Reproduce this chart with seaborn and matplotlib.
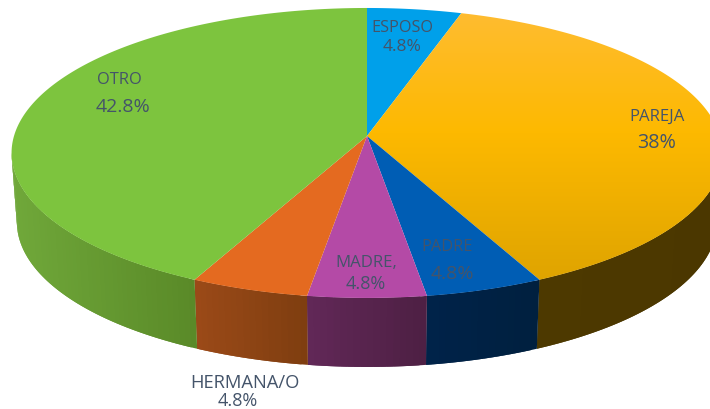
import numpy as np
import matplotlib
matplotlib.use("Agg")
import matplotlib.pyplot as plt
from matplotlib.colors import LinearSegmentedColormap, to_rgb
from matplotlib.patches import Polygon
import seaborn as sns

categories = ["ESPOSO", "PAREJA", "PADRE", "MADRE,", "HERMANA/O", "OTRO"]
values = [4.8, 38, 4.8, 4.8, 4.8, 42.8]
value_labels = ["4.8%", "38%", "4.8%", "4.8%", "4.8%", "42.8%"]

top_colors = ["#00A0EA", "#FDB706", "#005DB4", "#B44AA6", "#E46A20", "#7DC43E"]
wall_right = ["#00507A", "#4B3700", "#00203F", "#4E2044", "#7F3E10", "#5A8A28"]
wall_left = ["#00507A", "#4D3900", "#00234A", "#622858", "#9C4A18", "#70A83A"]

# label layout, pixels (name centre, value centre)
label_pos = [((402, 28), (402, 47)), ((657, 117), (657, 143)), ((447, 247), (452, 274)),
             ((366, 263), (366, 284)), ((245, 383), (238, 401)), ((119, 80), (123, 107))]
name_size = [11.7, 12.1, 11.8, 12.1, 13.2, 11.9]
value_size = [12.5, 14.2, 14, 13, 13, 14]
TEXT = "#44546A"

# pie projection
CX, CY = 367, 136
A, B, K = 353, 143, 0.117
DEPTH, SHRINK = 69, 0.985

sns.set_theme(style="white")
plt.rcParams["font.family"] = ["Open Sans", "DejaVu Sans"]


def project(theta):
    x, y = np.sin(theta), np.cos(theta)
    d = 1 + K * y
    return CX + A * x / d, CY - B * y / d


def lower(px, py):
    return CX + SHRINK * (px - CX), py + DEPTH


fig, ax = plt.subplots(figsize=(7.10, 4.09), dpi=100)
ax.set_position([0, 0, 1, 1])
ax.axis("off")

edges = 2 * np.pi * np.concatenate([[0], np.cumsum(values)]) / np.sum(values)
palette = sns.color_palette(top_colors)

# only the front of the rim is visible
front_start = np.arccos(-K)
front_end = 2 * np.pi - front_start

for i, _ in enumerate(values):
    t0, t1 = max(edges[i], front_start), min(edges[i + 1], front_end)
    if t1 <= t0:
        continue
    n = max(int((t1 - t0) * 60), 12)
    ts = np.linspace(t0, t1, n + 1)
    x_all = project(ts)[0]
    cl, cr = np.array(to_rgb(wall_left[i])), np.array(to_rgb(wall_right[i]))
    span = max(x_all.max() - x_all.min(), 1)
    for j in range(n):
        # each strip overlaps the next one, so no seams show
        stop = ts[min(j + 2, n)]
        xa, ya = project(np.linspace(ts[j], stop, 5))
        xb, yb = lower(xa, ya)
        f = (x_all[j] - x_all.min()) / span
        col = cl + (cr - cl) * f
        ax.fill(np.r_[xa, xb[::-1]], np.r_[ya, yb[::-1]], color=col, lw=0, zorder=1)

for i, _ in enumerate(values):
    t = np.linspace(edges[i], edges[i + 1], 200)
    xs, ys = project(t)
    px = np.r_[CX, xs]
    py = np.r_[CY, ys]
    if categories[i] == "PAREJA":
        cmap = LinearSegmentedColormap.from_list(
            "pareja", [(0, "#FFBC30"), (0.45, "#FDB900"), (1, "#DFA400")])
        grad = np.linspace(0, 1, 256).reshape(-1, 1)
        im = ax.imshow(grad, extent=(0, 740, py.max(), py.min()), cmap=cmap,
                       aspect="auto", zorder=2, interpolation="bilinear")
        clip = Polygon(np.c_[px, py], closed=True, transform=ax.transData)
        im.set_clip_path(clip)
    else:
        ax.fill(px, py, color=palette[i], lw=0, zorder=2)

ax.set_xlim(0, 710)
ax.set_ylim(409, 0)

for i, name in enumerate(categories):
    (nx, ny), (vx, vy) = label_pos[i]
    ax.text(nx, ny, name, ha="center", va="center", color=TEXT, fontsize=name_size[i], zorder=3)
    ax.text(vx, vy, value_labels[i], ha="center", va="center", color=TEXT, fontsize=value_size[i], zorder=3)

fig.savefig("out.png", dpi=100, facecolor="white")
